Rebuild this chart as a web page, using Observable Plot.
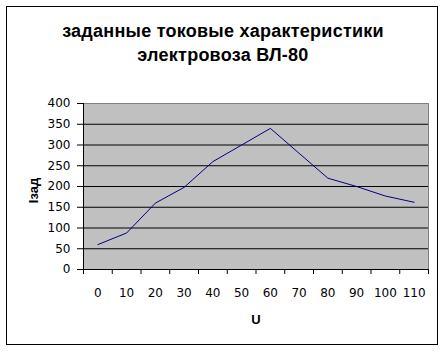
<!DOCTYPE html>
<html>
<head>
<meta charset="utf-8">
<script src="https://cdn.jsdelivr.net/npm/d3@7"></script>
<script src="https://cdn.jsdelivr.net/npm/@observablehq/plot@0.6"></script>
<style>
  html, body { margin: 0; padding: 0; background: #fff; }
  #wrap { position: relative; width: 446px; height: 352px; overflow: hidden; background: #fff; }
  #border { position: absolute; left: 6px; top: 6px; width: 430px; height: 337px; border: 1px solid #000; pointer-events: none; }
  #title { height: 90px; box-sizing: border-box; padding-top: 19px; text-align: center;
           font-family: "Liberation Sans", Arial, sans-serif; font-weight: bold; font-size: 18px; letter-spacing: 0.25px; line-height: 24px; color: #000; }
  #chart svg { display: block; }
</style>
</head>
<body>
<div id="wrap">
  <div id="title">заданные токовые характеристики<br>электровоза ВЛ-80</div>
  <div id="chart"></div>
  <div id="border"></div>
</div>
<script>
const U = [0, 10, 20, 30, 40, 50, 60, 70, 80, 90, 100, 110];
const Izad = [60, 88, 160, 198, 260, 300, 340, 280, 220, 200, 177, 162];
const yTicks = [0, 50, 100, 150, 200, 250, 300, 350, 400];
const gridTicks = [50, 100, 150, 200, 250, 300, 350];
const xTitle = "U";
const yTitle = "Iзад";

const step = U[1] - U[0];
const xEdges = U.map(u => u - step / 2).concat([U[U.length - 1] + step / 2]);
const xDomain = [xEdges[0], xEdges[xEdges.length - 1]];
const data = U.map((u, i) => ({u, v: Izad[i]}));

const chart = Plot.plot({
  width: 446,
  height: 262,
  marginTop: 13,
  marginBottom: 83,
  marginLeft: 83,
  marginRight: 18,
  x: {type: "linear", domain: xDomain},
  y: {type: "linear", domain: [yTicks[0], yTicks[yTicks.length - 1]]},
  style: {fontFamily: "'DejaVu Sans', sans-serif", fontSize: "12px", background: "transparent", color: "#000"},
  marks: [
    Plot.frame({fill: "#c0c0c0", stroke: "#808080"}),
    Plot.gridY(gridTicks, {stroke: "#000", strokeOpacity: 1}),
    Plot.ruleY([yTicks[0]], {stroke: "#000"}),
    Plot.ruleX([xDomain[0]], {stroke: "#000"}),
    Plot.line(data, {x: "u", y: "v", stroke: "#000080", strokeWidth: 1}),
    Plot.axisY(yTicks, {tickSize: 6, tickPadding: 7, label: null, stroke: "#000"}),
    Plot.axisX(xEdges, {tickSize: 5, tickFormat: () => "", label: null, stroke: "#000"}),
    Plot.axisX(U, {tickSize: 0, tickPadding: 19, label: null}),
    Plot.text([xTitle], {frameAnchor: "bottom", dy: 50, lineAnchor: "middle", text: d => d,
      fontWeight: "bold", fontSize: 13, fontFamily: "'Liberation Sans', Arial, sans-serif"}),
    Plot.text([yTitle], {frameAnchor: "left", rotate: -90, dx: -50, dy: 4, lineAnchor: "middle", textAnchor: "middle", text: d => d,
      fontWeight: "bold", fontSize: 13, fontFamily: "'Liberation Sans', Arial, sans-serif"})
  ]
});
document.getElementById("chart").appendChild(chart);
</script>
</body>
</html>
